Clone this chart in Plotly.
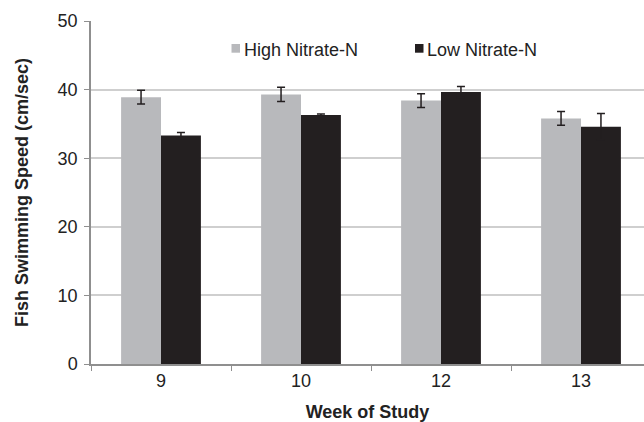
import plotly.graph_objects as go

weeks = ["9", "10", "12", "13"]
high_nitrate = [38.9, 39.3, 38.4, 35.8]
high_err = [1.0, 1.05, 1.0, 1.0]
low_nitrate = [33.3, 36.3, 39.65, 34.6]
low_err = [0.45, 0.15, 0.8, 1.9]
series_names = ["High Nitrate-N", "Low Nitrate-N"]

GRAY = "#b8b9bc"
BLACK = "#231f20"
AXIS = "#8f8f8f"
FONT = "Liberation Sans, Arial, sans-serif"
FS = 18

W, H = 644, 422
L, R, T, B = 91, 0, 21, 58
PW, PH = W - L - R, H - T - B


def px_x(x):
    return (x - L) / PW


def px_y(y):
    return (H - B - y) / PH


fig = go.Figure()
fig.add_bar(
    x=weeks, y=high_nitrate, name=series_names[0],
    marker=dict(color=GRAY, line=dict(width=0)),
    error_y=dict(type="data", array=high_err, color=BLACK, thickness=1.5, width=4),
)
fig.add_bar(
    x=weeks, y=low_nitrate, name=series_names[1],
    marker=dict(color=BLACK, line=dict(width=0)),
    error_y=dict(type="data", array=low_err, color=BLACK, thickness=1.5, width=4),
)

# legend: small swatch followed closely by its label
legend_items = [(series_names[0], GRAY, 231.5), (series_names[1], BLACK, 415)]
shapes, annotations = [], []
for name, color, x0 in legend_items:
    shapes.append(dict(
        type="rect", xref="paper", yref="paper",
        x0=px_x(x0), x1=px_x(x0 + 8.5), y0=px_y(52.7), y1=px_y(44),
        fillcolor=color, line=dict(width=0),
    ))
    annotations.append(dict(
        text=name, xref="paper", yref="paper", x=px_x(x0 + 10), y=px_y(50),
        xanchor="left", yanchor="middle", showarrow=False,
        font=dict(size=FS, color="#222222"),
    ))

fig.update_layout(
    width=W, height=H,
    margin=dict(l=L, r=R, t=T, b=B),
    paper_bgcolor="white", plot_bgcolor="white",
    barmode="group", bargap=0.43, bargroupgap=0,
    font=dict(family=FONT, size=FS, color="#222222"),
    showlegend=False,
    shapes=shapes, annotations=annotations,
    xaxis=dict(
        type="category", range=[-0.5, 3.45],
        tickson="boundaries", ticks="outside", ticklen=5, tickcolor=AXIS,
        showline=True, linecolor=AXIS, linewidth=1.5, showgrid=False,
        tickfont=dict(size=FS),
        title=dict(text="<b>Week of Study</b>", font=dict(size=FS), standoff=16),
    ),
    yaxis=dict(
        range=[0, 50], dtick=10, ticks="outside", ticklen=5, tickcolor=AXIS,
        showline=True, linecolor=AXIS, linewidth=1.5,
        showgrid=True, gridcolor="#cfcfcf", gridwidth=1.5, zeroline=False,
        tickfont=dict(size=FS), ticklabelstandoff=3,
        title=dict(text="<b>Fish Swimming Speed (cm/sec)</b>", font=dict(size=FS), standoff=24),
    ),
)

fig.write_html("out.html")
